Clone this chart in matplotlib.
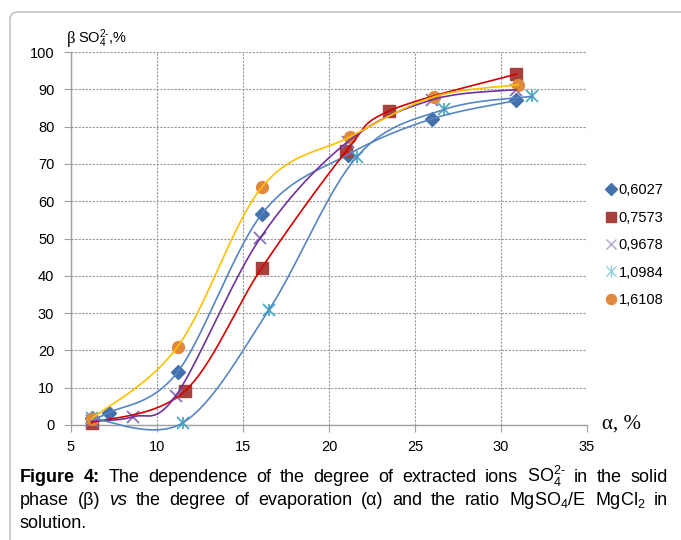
import numpy as np
import matplotlib
matplotlib.use('Agg')
import matplotlib.pyplot as plt
from matplotlib.patches import FancyBboxPatch
from matplotlib.lines import Line2D
from matplotlib.transforms import IdentityTransform

plt.rcParams['font.family'] = ['Liberation Sans', 'DejaVu Sans']
plt.rcParams['mathtext.fontset'] = 'custom'
plt.rcParams['mathtext.rm'] = 'Liberation Sans'
plt.rcParams['mathtext.it'] = 'Liberation Sans:italic'
plt.rcParams['mathtext.default'] = 'regular'

# ______ data ______
labels = ['0,6027', '0,7573', '0,9678', '1,0984', '1,6108']
x_0603 = [6.2, 7.2, 11.2, 16.1, 21.1, 26.0, 30.9]
y_0603 = [2.0, 3.3, 14.2, 56.6, 72.5, 82.1, 87.0]
x_0757 = [6.2, 11.6, 16.1, 21.0, 23.5, 30.9]
y_0757 = [0.6, 9.0, 42.2, 73.4, 84.2, 94.1]
x_0968 = [6.2, 8.6, 11.1, 16.0, 21.1, 26.0, 30.9]
y_0968 = [1.0, 2.2, 7.9, 50.1, 76.0, 87.2, 89.9]
x_1098 = [6.2, 11.5, 16.5, 21.6, 26.7, 31.8]
y_1098 = [1.8, 0.6, 30.8, 71.8, 84.6, 88.1]
x_1611 = [6.2, 11.2, 16.1, 21.2, 26.1, 31.0]
y_1611 = [1.7, 21.0, 63.8, 77.2, 88.0, 91.2]

series = [(x_0603, y_0603), (x_0757, y_0757), (x_0968, y_0968),
          (x_1098, y_1098), (x_1611, y_1611)]
markers = ['D', 's', 'x', 'star', 'o']
mcolors = ['#4470ab', '#a8403d', '#8a72b0', '#4bacc6', '#e0883c']
legcolors = ['#4470ab', '#a8403d', '#b3a4cc', '#8fd0e0', '#e0883c']
lcolors = ['#5585c3', '#d40000', '#7030a0', '#5585c3', '#ffc000']
msizes = [7, 8.5, 8, 8, 8.5]


def smooth(xs, ys, n=40):
    # excel-like smoothed line: bezier segments with catmull-rom control points
    p = np.column_stack([xs, ys]).astype(float)
    pts = [p[0]]
    for i in range(len(p) - 1):
        p0 = p[i - 1] if i > 0 else p[i]
        p1, p2 = p[i], p[i + 1]
        p3 = p[i + 2] if i + 2 < len(p) else p[i + 1]
        c1 = p1 + (p2 - p0) / 6
        c2 = p2 - (p3 - p1) / 6
        t = np.linspace(0, 1, n)[1:, None]
        seg = ((1 - t) ** 3 * p1 + 3 * (1 - t) ** 2 * t * c1
               + 3 * (1 - t) * t ** 2 * c2 + t ** 3 * p2)
        pts.extend(seg)
    pts = np.array(pts)
    return pts[:, 0], pts[:, 1]


fig = plt.figure(figsize=(6.81, 5.4), dpi=100)
ax = fig.add_axes([71 / 681, 1 - 425 / 540, (587 - 71) / 681, (425 - 52) / 540])

for (xs, ys), m, mc, lc, ms in zip(series, markers, mcolors, lcolors, msizes):
    sx, sy = smooth(xs, ys)
    ax.plot(sx, sy, '-', color=lc, lw=1.2, zorder=4, clip_on=False)
    if m == 'star':
        ax.plot(xs, ys, 'x', color=mc, ms=ms, mew=1.3, zorder=3, clip_on=False)
        ax.plot(xs, ys, '|', color=mc, ms=ms * 1.1, mew=1.3, zorder=3, clip_on=False)
    elif m == 'x':
        ax.plot(xs, ys, 'x', color=mc, ms=ms, mew=1.3, zorder=3, clip_on=False)
    else:
        ax.plot(xs, ys, m, color=mc, ms=ms, mec=mc, zorder=3, clip_on=False)

ax.set_xlim(5, 35)
ax.set_ylim(0, 100)
ax.set_xticks(range(5, 36, 5))
ax.set_yticks(range(0, 101, 10))
ax.grid(True, color='#9a9a9a', ls=(0, (2, 1.2)), lw=0.8)
ax.set_axisbelow(True)
for s in ['top', 'right']:
    ax.spines[s].set_visible(False)
for s in ['left', 'bottom']:
    ax.spines[s].set_color('#a0a0a0')
    ax.spines[s].set_linewidth(1.0)
ax.tick_params(axis='both', color='#a0a0a0', length=5, labelsize=10.5, labelcolor='#000000')
ax.tick_params(axis='y', pad=7)
ax.tick_params(axis='x', pad=6)

# legend (markers only)
handles = []
for m, lc_, ms in zip(markers, legcolors, msizes):
    if m == 'star':
        h = (Line2D([], [], ls='none', marker='x', color=lc_, ms=7, mew=1.0),
             Line2D([], [], ls='none', marker='|', color=lc_, ms=8, mew=1.0))
    elif m == 'x':
        h = Line2D([], [], ls='none', marker='x', color=lc_, ms=7, mew=1.0)
    else:
        h = Line2D([], [], ls='none', marker=m, color=lc_, ms=ms * 0.85)
    handles.append(h)
leg = fig.legend(handles, labels, loc='upper left', bbox_to_anchor=(599 / 681, 1 - 176 / 540),
                 frameon=False, fontsize=10.5, handlelength=0.6, handletextpad=0.25,
                 labelspacing=0.92, borderpad=0)

# axis titles
fig.text(67 / 681, 1 - 43 / 540, 'β', family=['Liberation Serif'], fontsize=12, va='baseline')
fig.text(78 / 681, 1 - 43 / 540, r'SO$_4^{2\text{-}}$,%', fontsize=10.5, va='baseline')
fig.text(602 / 681, 1 - 429 / 540, 'α, %', family=['Liberation Serif'], fontsize=15, va='baseline')

# outer chart box (open at the bottom, left edge runs down the page)
fig.add_artist(FancyBboxPatch((10, -40), 720, 568, boxstyle='round,pad=0,rounding_size=8',
                              transform=IdentityTransform(), ec='#b8b8b8', fc='none', lw=1.0))

# caption, justified by hand
cap_font = ['Liberation Sans']
renderer = fig.canvas.get_renderer()


def caption_line(tokens, ybase, x0, x1, justify=True, size=13):
    objs = []
    for word, kw in tokens:
        t = fig.text(0, 1 - ybase / 540, word, family=cap_font, fontsize=size, va='baseline', **kw)
        objs.append(t)
    widths = [t.get_window_extent(renderer).width for t in objs]
    if justify and len(objs) > 1:
        gap = (x1 - x0 - sum(widths)) / (len(objs) - 1)
    else:
        gap = 4
    x = x0
    for t, w in zip(objs, widths):
        t.set_x(x / 681)
        x += w + gap


B = {'weight': 'bold'}
N = {}
I = {'style': 'italic'}
line1 = [('Figure', B), ('4:', B)] + [(w, N) for w in
         'The dependence of the degree of extracted ions'.split()] + \
        [(r'SO$_4^{2\text{-}}$', N)] + [(w, N) for w in 'in the solid'.split()]
line2 = [('phase', N), ('(β)', N), ('vs', I)] + [(w, N) for w in
         'the degree of evaporation (α) and the ratio'.split()] + \
        [(r'MgSO$_4$/E', N), (r'MgCl$_2$', N), ('in', N)]
line3 = [('solution.', N)]
caption_line(line1, 482, 20, 668)
caption_line(line2, 505, 20, 668)
caption_line(line3, 528, 20, 668, justify=False)

fig.savefig('out.png', dpi=100)
